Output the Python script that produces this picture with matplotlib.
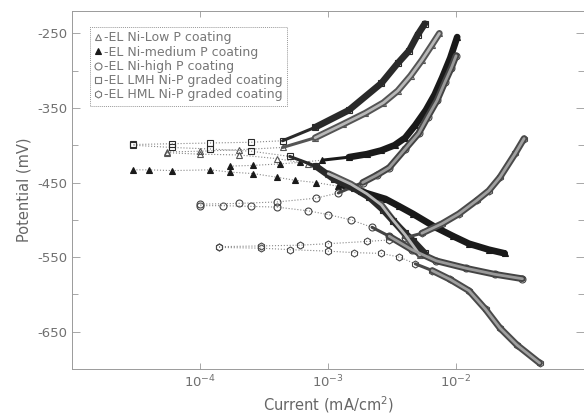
import matplotlib
matplotlib.use("Agg")
import matplotlib.pyplot as plt
from matplotlib.lines import Line2D

# ---- datos (corriente en mA/cm2, potencial en mV) ----
# EL Ni-Low P
lowp_cat_i = [5.5e-5, 1e-4, 2e-4, 4e-4, 7e-4, 1e-3, 1.5e-3, 2e-3, 2.6e-3, 3.2e-3, 4e-3, 5.2e-3]
lowp_cat_e = [-410, -412, -413, -418, -425, -438, -452, -465, -480, -500, -520, -547]
lowp_an_i = [5.5e-5, 1e-4, 2e-4, 4.4e-4, 7.9e-4, 1.3e-3, 1.95e-3, 2.7e-3, 3.5e-3, 4.4e-3, 5.4e-3, 6.5e-3, 7.4e-3]
lowp_an_e = [-409, -408, -406, -403, -390, -372, -357, -343, -327, -307, -286, -265, -250]

# EL Ni-medium P
medp_cat_i = [3e-5, 4e-5, 6e-5, 1.2e-4, 1.7e-4, 2.6e-4, 4e-4, 5.5e-4, 8e-4, 1.2e-3, 1.8e-3, 2.8e-3,
              3.6e-3, 4.6e-3, 6.9e-3, 9.5e-3, 1.26e-2, 1.8e-2, 2.4e-2]
medp_cat_e = [-433, -433, -434, -433, -436, -438, -443, -447, -450, -455, -462, -472,
              -482, -492, -510, -522, -532, -540, -545]
medp_an_i = [1.7e-4, 2.6e-4, 4.2e-4, 6e-4, 9e-4, 1.45e-3, 2e-3, 2.6e-3, 3.3e-3, 4e-3, 4.8e-3,
             5.8e-3, 6.8e-3, 7.8e-3, 9e-3, 1.02e-2]
medp_an_e = [-428, -427, -425, -423, -420, -416, -412, -407, -400, -390, -373,
             -353, -332, -309, -283, -255]

# EL Ni-high P
highp_cat_i = [1e-4, 1.5e-4, 2.5e-4, 4e-4, 7e-4, 1e-3, 1.5e-3, 2.2e-3, 3e-3, 4.5e-3, 7e-3, 1.2e-2, 2e-2, 3.3e-2]
highp_cat_e = [-481, -481, -482, -483, -488, -493, -500, -510, -522, -540, -555, -565, -573, -579]
highp_an_i = [1e-4, 2e-4, 4e-4, 8e-4, 1.2e-3, 1.86e-3, 2.4e-3, 3e-3, 4e-3, 5.1e-3, 6e-3, 7.1e-3, 8.2e-3, 9.2e-3, 1e-2]
highp_an_e = [-479, -478, -476, -471, -464, -450, -440, -430, -405, -384, -362, -340, -315, -296, -280]

# EL LMH Ni-P graded
lmh_cat_i = [3e-5, 6e-5, 1.2e-4, 2.5e-4, 5e-4, 8e-4, 1.1e-3, 1.6e-3, 2.1e-3, 2.7e-3, 3.2e-3, 4e-3, 4.6e-3, 5.7e-3]
lmh_cat_e = [-400, -403, -405, -408, -415, -428, -445, -458, -470, -487, -501, -518, -528, -545]
lmh_an_i = [3e-5, 6e-5, 1.2e-4, 2.5e-4, 4.4e-4, 7.9e-4, 1.45e-3, 2.6e-3, 3.5e-3, 4.3e-3, 5e-3, 5.7e-3]
lmh_an_e = [-399, -398, -397, -396, -394, -376, -353, -317, -290, -273, -252, -237]

# EL HML Ni-P graded
hml_cat_i = [1.4e-4, 3e-4, 5e-4, 1e-3, 1.6e-3, 2.6e-3, 3.6e-3, 4.8e-3, 6.5e-3, 9e-3, 1.26e-2, 1.7e-2, 2.2e-2, 3e-2, 4.5e-2]
hml_cat_e = [-537, -538, -540, -542, -544, -545, -550, -559, -568, -580, -595, -620, -645, -668, -692]
hml_an_i = [1.4e-4, 3e-4, 6e-4, 1e-3, 2e-3, 3e-3, 4e-3, 5.4e-3, 7.8e-3, 1.05e-2, 1.45e-2, 1.8e-2, 2.2e-2, 2.9e-2, 3.4e-2]
hml_an_e = [-536, -535, -534, -532, -529, -527, -524, -518, -505, -492, -474, -461, -443, -411, -391]

labels = ["-EL Ni-Low P coating", "-EL Ni-medium P coating", "-EL Ni-high P coating",
          "-EL LMH Ni-P graded coating", "-EL HML Ni-P graded coating"]

plt.rcParams['font.family'] = ['DejaVu Sans']
plt.rcParams['axes.unicode_minus'] = False

fig = plt.figure(figsize=(5.84, 4.16), dpi=100)
ax = fig.add_axes([0.124, 0.113, 0.876, 0.8606])

# (cat_i, cat_e, an_i, an_e, marker, relleno, borde, nucleo banda, inicio banda cat, inicio banda an)
series = [
    (lowp_cat_i, lowp_cat_e, lowp_an_i, lowp_an_e, '^', 'none', '#555555', '#b8b8b8', 1e-3, 7e-4),
    (medp_cat_i, medp_cat_e, medp_an_i, medp_an_e, '^', '#1a1a1a', '#1a1a1a', None, 1.5e-3, 1.4e-3),
    (highp_cat_i, highp_cat_e, highp_an_i, highp_an_e, 'o', 'none', '#444444', '#9a9a9a', 3e-3, 1.8e-3),
    (lmh_cat_i, lmh_cat_e, lmh_an_i, lmh_an_e, 's', 'none', '#2a2a2a', None, 8e-4, 7e-4),
    (hml_cat_i, hml_cat_e, hml_an_i, hml_an_e, 'h', 'none', '#4a4a4a', '#a0a0a0', 6e-3, 5e-3),
]

for cat_i, cat_e, an_i, an_e, mk, fc, ec, core, b_cat, b_an in series:
    for xs, ys, b0 in [(cat_i, cat_e, b_cat), (an_i, an_e, b_an)]:
        # linea punteada fina con marcadores
        ax.plot(xs, ys, linestyle=':', color='#888888', lw=0.8, marker=mk, ms=5,
                mfc=fc, mec=ec, mew=0.8, zorder=3)
        # tramo intermedio y banda gruesa donde los puntos estan muy juntos
        k = next(j for j, v in enumerate(xs) if v >= b0)
        ax.plot(xs[max(k - 1, 0):k + 1], ys[max(k - 1, 0):k + 1], color=ec, lw=2.2,
                solid_capstyle='round', zorder=4)
        ax.plot(xs[k:], ys[k:], color=ec, lw=4.8, solid_capstyle='round',
                solid_joinstyle='round', zorder=4)
        if core is not None:
            ax.plot(xs[k:], ys[k:], color=core, lw=2.0, solid_capstyle='round',
                    solid_joinstyle='round', zorder=5)

ax.set_xscale('log')
ax.set_xlim(1e-5, 1e-1)
ax.set_ylim(-700, -220)
ax.set_xticks([1e-4, 1e-3, 1e-2])
ax.set_xticklabels(['10$^{-4}$', '10$^{-3}$', '10$^{-2}$'])
ax.xaxis.set_minor_locator(matplotlib.ticker.NullLocator())
ax.set_yticks([-650, -550, -450, -350, -250])
ax.set_yticks([-600, -500, -400, -300], minor=True)

ax.tick_params(axis='both', which='both', direction='in', top=True, right=True,
               colors='#999999', labelcolor='#707070', labelsize=9.5, width=0.6)
ax.tick_params(axis='y', which='major', length=6)
ax.tick_params(axis='y', which='minor', length=4)
ax.tick_params(axis='x', which='major', length=4)

for s in ax.spines.values():
    s.set_color('#9a9a9a')
    s.set_linewidth(0.7)
    s.set_linestyle((0, (1, 1)))

ax.set_xlabel('Current (mA/cm$^2$)', fontsize=10.5, color='#666666', labelpad=3)
ax.set_ylabel('Potential (mV)', fontsize=10.5, color='#666666', labelpad=4)

handles = []
for (_, _, _, _, mk, fc, ec, _, _, _), lab in zip(series, labels):
    handles.append(Line2D([], [], linestyle='none', marker=mk, ms=5, mfc=fc,
                          mec='#777777' if fc == 'none' else fc, mew=0.8, label=lab))
leg = ax.legend(handles=handles, loc='upper left', bbox_to_anchor=(0.034, 0.955),
                borderaxespad=0, fontsize=9, labelspacing=0.1, handlelength=0.6,
                handletextpad=0.15, borderpad=0.35, fancybox=False, framealpha=1)
leg.get_frame().set_edgecolor('#999999')
leg.get_frame().set_linewidth(0.7)
leg.get_frame().set_linestyle((0, (1, 1)))
for t in leg.get_texts():
    t.set_color('#777777')

fig.savefig('out.png', dpi=100)
